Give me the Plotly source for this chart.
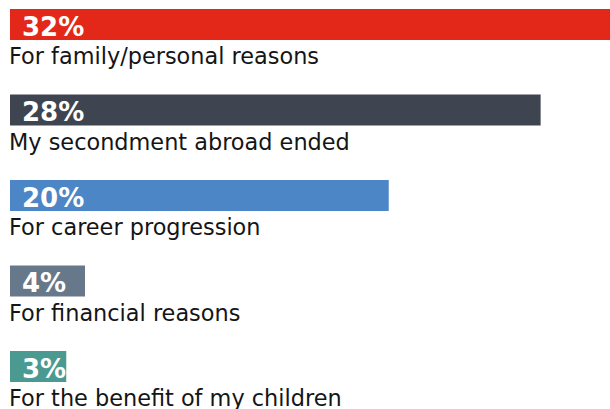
import plotly.graph_objects as go

categories = ["For family/personal reasons", "My secondment abroad ended",
              "For career progression", "For financial reasons",
              "For the benefit of my children"]
values = [32.0, 28.3, 20.2, 4.0, 3.0]
value_labels = ["32%", "28%", "20%", "4%", "3%"]
colors = ["#E3281A", "#3E4550", "#4D86C6", "#667889", "#4A9A92"]

positions = list(range(len(categories)))

fig = go.Figure()
fig.add_trace(go.Bar(
    x=values, y=positions, orientation="h",
    marker=dict(color=colors, line=dict(width=0)),
    width=0.3626, hoverinfo="skip",
))

annotations = []
for i, (lab, cat) in enumerate(zip(value_labels, categories)):
    annotations.append(dict(
        x=0, y=i, xref="x", yref="y", text=f"<b>{lab}</b>",
        showarrow=False, xanchor="left", yanchor="middle", xshift=10, yshift=-2,
        font=dict(family="DejaVu Sans", size=26, color="white"),
    ))
    annotations.append(dict(
        x=0, y=i + 0.374, xref="x", yref="y", text=cat,
        showarrow=False, xanchor="left", yanchor="middle", xshift=-3,
        font=dict(family="DejaVu Sans", size=22.4, color="#151515"),
    ))

fig.update_layout(
    width=610, height=409,
    margin=dict(l=10, r=0, t=0, b=0),
    paper_bgcolor="white", plot_bgcolor="white",
    showlegend=False,
    xaxis=dict(range=[0, 32], visible=False, fixedrange=True),
    yaxis=dict(range=[4.497, -0.2865], visible=False, fixedrange=True),
    annotations=annotations,
)

fig.write_html(
    "out.html",
    config={"displayModeBar": False},
    post_script="document.body.style.margin='0';document.body.style.overflow='hidden';",
)
